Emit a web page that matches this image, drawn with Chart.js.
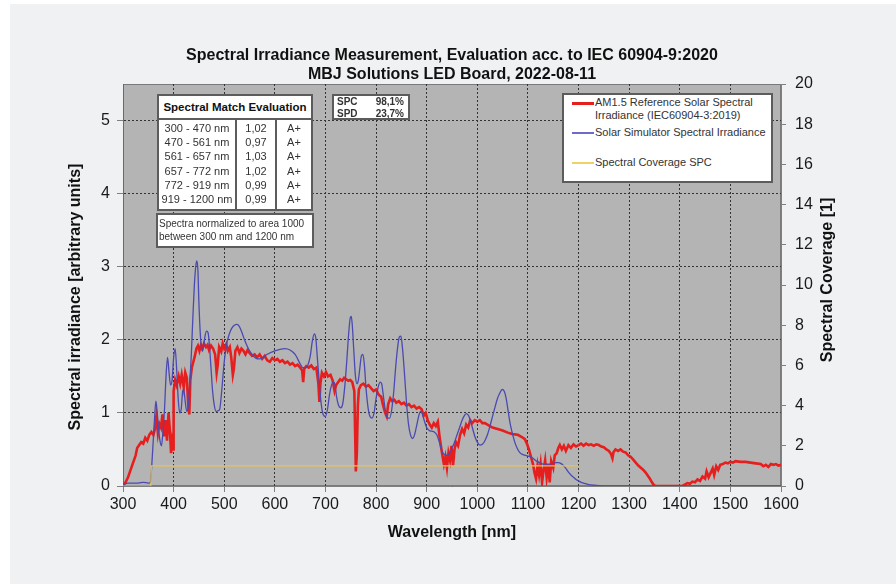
<!DOCTYPE html>
<html>
<head>
<meta charset="utf-8">
<script src="https://cdn.jsdelivr.net/npm/chart.js@4.4.1/dist/chart.umd.min.js"></script>
<style>
body { margin:0; background:#fff; font-family:"Liberation Sans", Arial, sans-serif; }
#wrap { position:relative; width:896px; height:584px; overflow:hidden; }
#paper { position:absolute; left:10px; top:4px; right:0; bottom:0; background:#eff1f2; }
#chart { position:absolute; left:0; top:0; }
.txt { position:absolute; white-space:nowrap; color:#111; }
.rot { position:absolute; width:320px; height:20px; line-height:20px; text-align:center; font-size:16px; font-weight:bold; color:#111; transform:rotate(-90deg); white-space:nowrap; }
.box { position:absolute; box-sizing:border-box; background:#fff; border:2px solid #5c5c5c; color:#333; }
.cell { position:absolute; text-align:center; font-size:11px; line-height:14px; white-space:nowrap; }
.swatch { position:absolute; left:8px; width:22px; }
.ltxt { position:absolute; left:31px; font-size:11px; line-height:13px; color:#333; white-space:nowrap; }
</style>
</head>
<body>
<div id="wrap">
  <div id="paper"></div>
  <canvas id="chart" width="896" height="584"></canvas>

  <div class="txt" id="title" style="left:0;top:45px;width:904px;text-align:center;font-size:16px;font-weight:bold;line-height:19px;"></div>
  <div class="rot" id="leftTitle" style="left:-85px;top:287px;"></div>
  <div class="rot" id="rightTitle" style="left:667px;top:270px;"></div>

  <div class="box" style="left:157px;top:94px;width:156px;height:26px;">
    <div style="text-align:center;font-size:11.5px;font-weight:bold;line-height:22px;color:#111;">Spectral Match Evaluation</div>
  </div>
  <div class="box" id="bandBox" style="left:157px;top:118px;width:156px;height:93px;">
    <div style="position:absolute;left:76px;top:0;bottom:0;border-left:2px solid #5c5c5c;"></div>
    <div style="position:absolute;left:116px;top:0;bottom:0;border-left:2px solid #5c5c5c;"></div>
  </div>
  <div class="box" style="left:156px;top:213px;width:158px;height:35px;">
    <div id="normNote" style="padding:2px 0 0 1px;font-size:10px;line-height:13px;white-space:nowrap;"></div>
  </div>
  <div class="box" id="spcBox" style="left:332px;top:94px;width:78px;height:26px;"></div>

  <div class="box" id="legendBox" style="left:562px;top:93px;width:211px;height:90px;"></div>
</div>

<script>
// AM1.5 reference spectrum
var refNm = [
  300,305,310,315,320,325,328,332,336,340,
  344,348,352,356,360,363,366,369,372,375,
  378,381,384,387,390,393,395,397,399,400,
  403,406,410,413,416,420,423,426,429,431,
  433,436,439,442,445,448,451,454,457,460,
  464,467,470,474,478,482,485,487,490,494,
  497,500,504,507,511,514,517,519,522,526,
  530,534,538,542,546,550,555,560,565,570,
  575,580,585,590,595,600,605,610,615,620,
  625,630,635,640,645,650,654,656,658,662,
  667,672,677,682,686,688,690,693,697,701,
  705,710,714,718,721,725,729,733,737,741,
  745,749,753,757,759,760,762,764,766,770,
  775,780,785,790,795,800,805,810,814,818,
  821,824,828,832,836,840,845,850,855,860,
  865,870,875,880,885,890,894,898,902,906,
  910,914,918,922,925,928,931,934,937,940,
  943,946,949,952,955,958,962,966,970,974,
  978,982,986,990,995,1000,1005,1010,1015,1020,
  1030,1040,1050,1060,1070,1080,1088,1094,1098,1102,
  1106,1110,1113,1116,1119,1122,1125,1128,1131,1134,
  1137,1140,1143,1146,1150,1153,1157,1160,1163,1167,
  1171,1175,1180,1185,1190,1195,1200,1205,1210,1215,
  1220,1225,1230,1235,1240,1245,1250,1255,1260,1264,
  1267,1269,1273,1278,1283,1288,1293,1298,1303,1308,
  1313,1318,1323,1328,1333,1337,1341,1345,1348,1352,
  1405,1410,1415,1420,1425,1430,1435,1440,1445,1450,
  1453,1457,1461,1465,1468,1472,1476,1480,1485,1490,
  1495,1500,1505,1510,1520,1530,1540,1550,1560,1565,
  1570,1575,1580,1585,1590,1595,1600
];
var refVal = [
  0.00,0.05,0.12,0.22,0.32,0.42,0.52,0.56,0.60,0.58,
  0.66,0.62,0.70,0.74,0.70,0.78,0.95,0.72,0.85,0.80,
  0.98,0.68,0.90,0.62,1.00,0.72,0.45,0.60,0.50,1.30,
  1.45,1.38,1.50,1.40,1.52,1.35,1.55,1.48,1.10,0.98,
  1.45,1.62,1.70,1.78,1.88,1.92,1.85,1.93,1.88,1.95,
  1.90,1.93,1.86,1.92,1.88,1.80,1.55,1.65,1.90,1.84,
  1.95,1.88,1.94,1.85,1.90,1.75,1.52,1.60,1.85,1.90,
  1.82,1.88,1.85,1.80,1.86,1.82,1.78,1.80,1.76,1.80,
  1.74,1.78,1.72,1.70,1.75,1.72,1.74,1.70,1.72,1.68,
  1.70,1.66,1.68,1.64,1.66,1.62,1.58,1.42,1.60,1.64,
  1.62,1.65,1.60,1.62,1.40,1.15,1.40,1.55,1.50,1.56,
  1.50,1.52,1.45,1.30,1.38,1.42,1.46,1.44,1.48,1.46,
  1.44,1.45,1.42,1.30,0.60,0.20,0.45,1.10,1.32,1.38,
  1.40,1.36,1.38,1.34,1.30,1.32,1.25,1.22,1.10,1.00,
  0.95,1.12,1.20,1.16,1.18,1.14,1.16,1.12,1.14,1.10,
  1.12,1.08,1.10,1.06,1.08,1.05,0.96,1.00,0.90,0.84,
  0.80,0.86,0.82,0.88,0.70,0.55,0.42,0.30,0.40,0.25,
  0.45,0.35,0.55,0.28,0.50,0.60,0.55,0.70,0.78,0.72,
  0.84,0.80,0.90,0.86,0.90,0.88,0.90,0.86,0.86,0.84,
  0.80,0.78,0.76,0.73,0.71,0.70,0.67,0.64,0.58,0.50,
  0.40,0.30,0.18,0.10,0.28,0.15,0.30,0.05,0.22,0.35,
  0.12,0.30,0.05,0.34,0.25,0.42,0.45,0.52,0.56,0.50,
  0.55,0.48,0.56,0.52,0.57,0.54,0.56,0.58,0.55,0.58,
  0.56,0.57,0.55,0.57,0.56,0.54,0.53,0.50,0.48,0.44,
  0.38,0.46,0.50,0.48,0.50,0.47,0.46,0.42,0.40,0.36,
  0.32,0.28,0.25,0.22,0.18,0.14,0.10,0.05,0.02,0.00,
  0.00,0.02,0.04,0.03,0.06,0.05,0.09,0.07,0.13,0.10,
  0.20,0.12,0.18,0.24,0.15,0.27,0.22,0.29,0.30,0.32,
  0.31,0.33,0.32,0.34,0.33,0.33,0.32,0.31,0.30,0.27,
  0.29,0.26,0.30,0.29,0.30,0.28,0.29
];

// solar simulator (LED board) spectrum
var simNm = [
  300,310,320,330,340,350,354,357,360,363,
  365,367,370,373,376,379,382,385,388,391,
  394,397,400,403,406,409,412,415,418,420,
  423,426,429,432,435,438,441,444,446,448,
  450,453,456,459,462,465,468,471,474,477,
  480,484,488,491,495,500,505,510,515,520,
  525,530,535,540,545,550,555,560,565,570,
  575,580,590,600,610,620,630,640,645,650,
  655,660,665,670,674,678,681,684,688,692,
  696,700,704,708,712,716,719,722,726,730,
  734,738,742,746,749,751,753,756,759,762,
  765,768,771,774,777,780,784,788,792,796,
  800,804,808,811,815,819,823,827,831,835,
  839,843,846,849,852,856,860,864,868,872,
  876,880,884,888,891,895,900,905,910,915,
  920,925,930,935,940,945,950,955,960,965,
  970,975,979,983,987,991,995,1000,1005,1010,
  1015,1020,1025,1030,1035,1040,1045,1049,1053,1057,
  1061,1065,1070,1075,1080,1085,1090,1095,1100,1105,
  1110,1115,1120,1125,1130,1135,1140,1145,1150,1155,
  1160,1165,1170,1175,1180,1185,1190,1195,1200,1205,
  1210,1220,1230,1250,1600
];
var simVal = [
  0.02,0.04,0.04,0.04,0.05,0.04,0.05,0.30,0.65,1.00,
  1.16,1.05,0.80,0.62,0.55,0.75,1.05,1.50,1.76,1.55,
  1.38,1.45,1.75,1.88,1.60,1.20,1.00,1.05,1.30,1.32,
  1.15,1.02,1.10,1.40,1.80,2.30,2.75,3.02,3.08,2.95,
  2.50,2.05,1.85,1.90,2.05,2.12,2.10,1.90,1.60,1.30,
  1.12,1.02,1.03,1.05,1.30,1.70,1.95,2.08,2.16,2.20,
  2.21,2.18,2.10,2.00,1.92,1.85,1.80,1.76,1.74,1.74,
  1.75,1.78,1.82,1.85,1.87,1.88,1.86,1.80,1.74,1.67,
  1.62,1.62,1.65,1.78,1.98,2.08,2.02,1.75,1.40,1.10,
  0.97,0.95,1.05,1.25,1.38,1.42,1.38,1.22,1.10,1.07,
  1.12,1.35,1.70,2.10,2.30,2.32,2.20,1.85,1.52,1.40,
  1.45,1.62,1.78,1.80,1.65,1.35,1.08,0.95,0.93,1.00,
  1.20,1.35,1.42,1.40,1.20,1.00,0.93,0.93,1.05,1.30,
  1.65,1.92,2.04,2.05,1.90,1.55,1.15,0.85,0.70,0.65,
  0.70,0.82,0.95,1.02,1.00,0.90,0.80,0.76,0.75,0.74,
  0.70,0.60,0.48,0.43,0.42,0.45,0.52,0.60,0.70,0.80,
  0.90,0.97,0.99,0.96,0.88,0.78,0.68,0.60,0.56,0.57,
  0.62,0.70,0.82,0.95,1.08,1.20,1.28,1.32,1.30,1.20,
  1.02,0.85,0.70,0.58,0.50,0.45,0.43,0.42,0.41,0.40,
  0.38,0.35,0.33,0.31,0.30,0.30,0.30,0.30,0.31,0.32,
  0.32,0.31,0.28,0.24,0.19,0.15,0.12,0.09,0.07,0.05,
  0.04,0.02,0.01,0.00,0.00
];

// spectral coverage (right axis)
var spcNm = [300, 355, 356, 1200];
var spcVal = [0, 0, 1, 1];

var xTicks = [300,400,500,600,700,800,900,1000,1100,1200,1300,1400,1500,1600];
var leftTicks = [0,1,2,3,4,5];
var rightTicks = [0,2,4,6,8,10,12,14,16,18,20];

var bandLabels = ['300 - 470 nm','470 - 561 nm','561 - 657 nm','657 - 772 nm','772 - 919 nm','919 - 1200 nm'];
var bandRatios = ['1,02','0,97','1,03','1,02','0,99','0,99'];
var bandClass = ['A+','A+','A+','A+','A+','A+'];
var spcNames = ['SPC','SPD'];
var spcValues = ['98,1%','23,7%'];

var titleLines = ['Spectral Irradiance Measurement, Evaluation acc. to IEC 60904-9:2020','MBJ Solutions LED Board, 2022-08-11'];
var seriesNames = ['AM1.5 Reference Solar Spectral<br>Irradiance (IEC60904-3:2019)','Solar Simulator Spectral Irradiance','Spectral Coverage SPC'];

var fontFam = '"Liberation Sans", Arial, sans-serif';
Chart.defaults.font.family = fontFam;

function toPoints(xs, ys){
    var pts = [];
    for(var i=0; i<xs.length; i++){
        pts.push({x: xs[i], y: ys[i]});
    }
    return pts;
}

function plainLabel(v){ return String(v); }

// grey plot area + frame
var plotBg = {
    id: 'plotBg',
    beforeDraw: function(chart){
        var a = chart.chartArea;
        var ctx = chart.ctx;
        ctx.save();
        ctx.fillStyle = '#b4b4b4';
        ctx.fillRect(a.left, a.top, a.right - a.left, a.bottom - a.top);
        ctx.strokeStyle = '#7a7a7a';
        ctx.lineWidth = 1;
        ctx.strokeRect(a.left + 0.5, a.top + 0.5, a.right - a.left - 1, a.bottom - a.top - 1);
        ctx.restore();
    }
};

var tickFont = {family: fontFam, size: 16};

new Chart(document.getElementById('chart').getContext('2d'), {
    type: 'line',
    data: {
        datasets: [{
            data: toPoints(refNm, refVal),
            borderColor: '#e61e1e',
            borderWidth: 2.6,
            pointRadius: 0,
            tension: 0,
            yAxisID: 'y',
            order: 3
        }, {
            data: toPoints(simNm, simVal),
            borderColor: '#4a4ab2',
            borderWidth: 1.3,
            pointRadius: 0,
            cubicInterpolationMode: 'monotone',
            yAxisID: 'y',
            order: 2
        }, {
            data: toPoints(spcNm, spcVal),
            borderColor: '#e8c24e',
            borderWidth: 1.2,
            pointRadius: 0,
            tension: 0,
            yAxisID: 'y2',
            order: 1
        }]
    },
    options: {
        responsive: false,
        animation: false,
        layout: { padding: {left: 62, top: 84, right: 66, bottom: 38} },
        plugins: {
            legend: {display: false},
            tooltip: {enabled: false},
            title: {display: false}
        },
        scales: {
            x: {
                type: 'linear', position: 'bottom', min: 300, max: 1600,
                afterBuildTicks: function(s){ s.ticks = xTicks.map(function(v){ return {value: v}; }); },
                afterFit: function(s){ s.height = 60; },
                ticks: { font: tickFont, color: '#1a1a1a', padding: 3, maxRotation: 0, autoSkip: false, callback: plainLabel },
                grid: { color: '#333333', lineWidth: 1, tickLength: 6, tickColor: '#808080', tickBorderDash: [] },
                border: { color: '#808080', dash: [2, 2] },
                title: { display: true, text: 'Wavelength [nm]', color: '#111', font: {family: fontFam, size: 16, weight: 'bold'}, padding: {top: 0, bottom: 4} }
            },
            y: {
                type: 'linear', position: 'left', min: 0, max: 5.5,
                afterBuildTicks: function(s){ s.ticks = leftTicks.map(function(v){ return {value: v}; }); },
                afterFit: function(s){ s.width = 61; },
                ticks: { font: tickFont, color: '#1a1a1a', padding: 7, callback: plainLabel },
                grid: { color: '#333333', lineWidth: 1, tickLength: 6, tickColor: '#808080', tickBorderDash: [] },
                border: { color: '#6a6a6a', dash: [2, 2] }
            },
            y2: {
                type: 'linear', position: 'right', min: 0, max: 20,
                afterBuildTicks: function(s){ s.ticks = rightTicks.map(function(v){ return {value: v}; }); },
                afterFit: function(s){ s.width = 49; },
                ticks: { font: tickFont, color: '#1a1a1a', padding: 9, callback: plainLabel },
                grid: { drawOnChartArea: false, tickLength: 5, tickColor: '#808080', tickBorderDash: [] },
                border: { color: '#808080' }
            }
        }
    },
    plugins: [plotBg]
});

// texts around the chart
document.getElementById('title').innerHTML = titleLines.join('<br>');
document.getElementById('leftTitle').textContent = 'Spectral irradiance  [arbitrary units]';
document.getElementById('rightTitle').textContent = 'Spectral Coverage [1]';
document.getElementById('normNote').innerHTML = 'Spectra normalized to area 1000<br>between 300 nm and 1200 nm';

var bandBox = document.getElementById('bandBox');
for(var r=0; r<bandLabels.length; r++){
    var rowTop = 1 + r*14.2;
    bandBox.insertAdjacentHTML('beforeend',
        '<div class="cell" style="left:0;width:76px;top:'+rowTop+'px;">'+bandLabels[r]+'</div>'
        +'<div class="cell" style="left:78px;width:38px;top:'+rowTop+'px;">'+bandRatios[r]+'</div>'
        +'<div class="cell" style="left:118px;width:34px;top:'+rowTop+'px;">'+bandClass[r]+'</div>');
}

var spcBox = document.getElementById('spcBox');
for(var k=0; k<spcNames.length; k++){
    spcBox.insertAdjacentHTML('beforeend',
        '<div style="position:absolute;left:3px;top:'+(k*12)+'px;font-size:10px;font-weight:bold;line-height:12px;">'+spcNames[k]+'</div>'
        +'<div style="position:absolute;right:4px;top:'+(k*12)+'px;font-size:10px;font-weight:bold;line-height:12px;">'+spcValues[k]+'</div>');
}

var legendBox = document.getElementById('legendBox');
var swatchColors = ['#e61e1e','#6c6cc6','#f0d264'];
var swatchY = [7, 37, 67];
var swatchH = [3, 2, 2];
for(var s=0; s<seriesNames.length; s++){
    legendBox.insertAdjacentHTML('beforeend',
        '<div class="swatch" style="top:'+swatchY[s]+'px;height:'+swatchH[s]+'px;background:'+swatchColors[s]+';"></div>'
        +'<div class="ltxt" style="top:'+(swatchY[s]-6)+'px;">'+seriesNames[s]+'</div>');
}
</script>
</body>
</html>
